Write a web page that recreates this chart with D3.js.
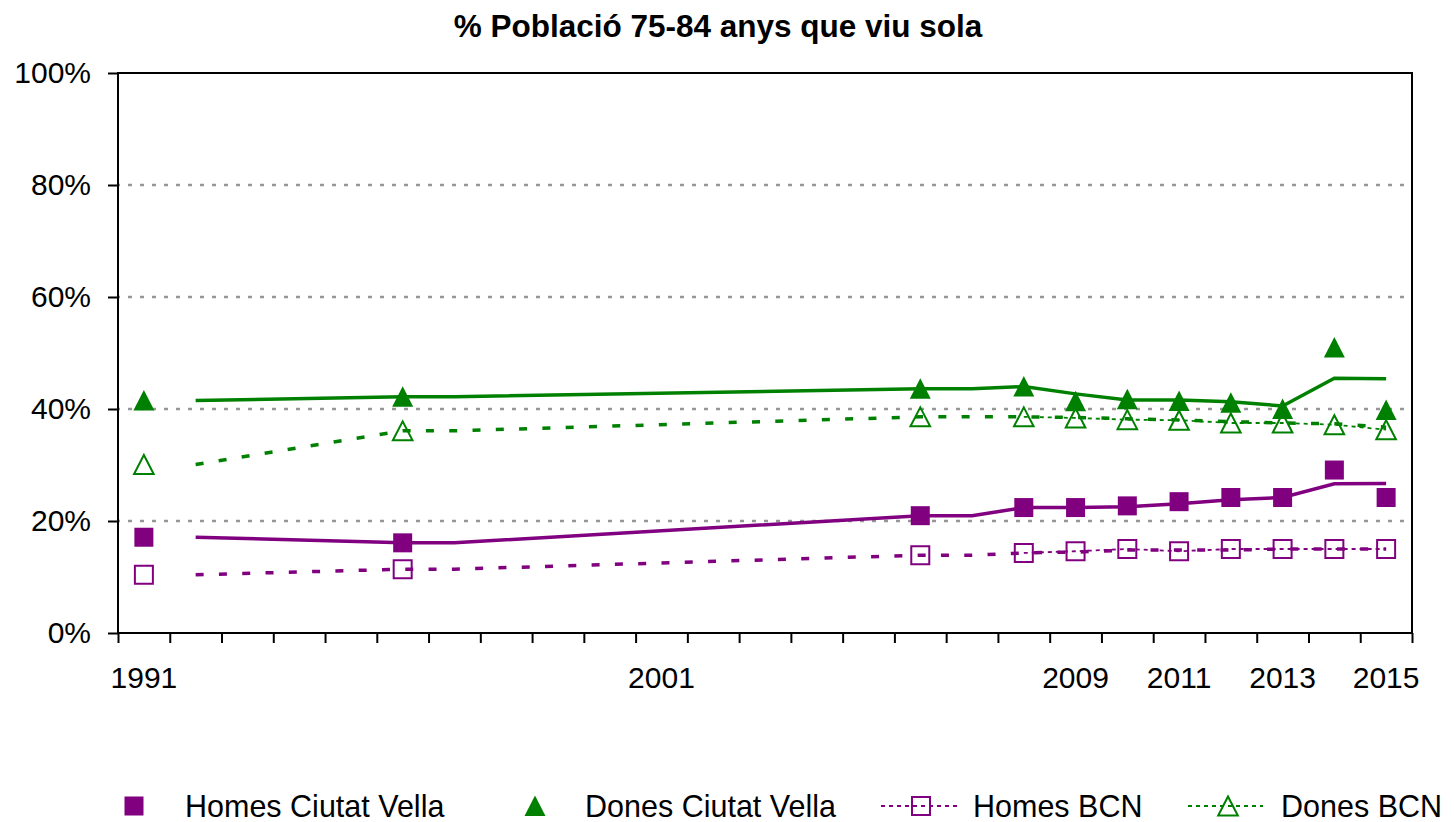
<!DOCTYPE html>
<html>
<head>
<meta charset="utf-8">
<script src="https://cdn.jsdelivr.net/npm/d3@7"></script>
<style>
  body { margin: 0; background: #fff; }
  text { font-family: "Liberation Sans", Arial, sans-serif; fill: #000; }
</style>
</head>
<body>
<svg class="chart" width="1454" height="822"></svg>
<script>
const margin = {top: 73, bottom: 189, left: 118, right: 42};
var width = 1454 - margin.left - margin.right;
var height = 822 - margin.top - margin.bottom;

var years = [1991, 1992, 1993, 1994, 1995, 1996, 1997, 1998, 1999, 2000, 2001, 2002, 2003,
             2004, 2005, 2006, 2007, 2008, 2009, 2010, 2011, 2012, 2013, 2014, 2015];
var xLabels = ["1991", "", "", "", "", "", "", "", "", "", "2001", "", "", "", "", "", "", "",
               "2009", "", "2011", "", "2013", "", "2015"];
var yTicks = [0, 20, 40, 60, 80, 100];

// marker values (% ), null = no data that year
var homesCV  = [17.1, null, null, null, null, 16.1, null, null, null, null, null, null, null, null, null,
                20.95, null, 22.4, 22.4, 22.7, 23.45, 24.2, 24.2, 29.1, 24.2];
var donesCV  = [41.5, null, null, null, null, 42.2, null, null, null, null, null, null, null, null, null,
                43.6, null, 44.0, 41.4, 41.75, 41.45, 41.1, 40.0, 51.0, 39.8];
var homesBCN = [10.4, null, null, null, null, 11.4, null, null, null, null, null, null, null, null, null,
                13.9, null, 14.3, 14.6, 15.0, 14.6, 15.0, 15.0, 15.0, 15.0];
var donesBCN = [30.1, null, null, null, null, 36.1, null, null, null, null, null, null, null, null, null,
                38.6, null, 38.6, 38.4, 38.1, 38.0, 37.5, 37.5, 37.2, 36.3];

// trend lines (2 period moving average)
var homesCVTrend  = [null, 17.1, null, null, null, 16.1, 16.1, null, null, null, null, null, null, null, null,
                     20.95, 20.95, 22.4, 22.4, 22.55, 23.1, 23.8, 24.2, 26.65, 26.7];
var donesCVTrend  = [null, 41.5, null, null, null, 42.2, 42.2, null, null, null, null, null, null, null, null,
                     43.6, 43.6, 44.0, 42.7, 41.6, 41.6, 41.3, 40.55, 45.5, 45.4];
var homesBCNTrend = [null, 10.4, null, null, null, 11.4, 11.4, null, null, null, null, null, null, null, null,
                     13.9, 13.9, 14.3, 14.45, 14.8, 14.8, 14.8, 15.0, 15.0, 15.0];
var donesBCNTrend = [null, 30.1, null, null, null, 36.1, 36.1, null, null, null, null, null, null, null, null,
                     38.6, 38.6, 38.6, 38.5, 38.25, 38.05, 37.75, 37.5, 37.35, 36.75];

var purple = "#800080", green = "#008000";

var series = [
  {name: "Homes Ciutat Vella", values: homesCV,  trend: homesCVTrend,  color: purple, shape: "square",   filled: true},
  {name: "Dones Ciutat Vella", values: donesCV,  trend: donesCVTrend,  color: green,  shape: "triangle", filled: true},
  {name: "Homes BCN",          values: homesBCN, trend: homesBCNTrend, color: purple, shape: "square",   filled: false},
  {name: "Dones BCN",          values: donesBCN, trend: donesBCNTrend, color: green,  shape: "triangle", filled: false}
];

var svg = d3.select('.chart');
var chart = svg.append('g')
  .attr('transform', 'translate(' + margin.left + ',' + margin.top + ')');

var x = d3.scaleBand().domain(years).range([0, width]).padding(0);
var xc = (yr) => x(yr) + x.bandwidth() / 2;
var y = d3.scaleLinear().domain([0, 100]).range([height, 0]);

// title
svg.append('text')
  .attr('x', 718).attr('y', 37)
  .attr('text-anchor', 'middle')
  .style('font-size', '31.5px').style('font-weight', 'bold')
  .text('% Població 75-84 anys que viu sola');

// gridlines
chart.append('g').selectAll('line')
  .data(yTicks.filter((d) => d > 0 && d < 100))
  .enter().append('line')
  .attr('x1', 0).attr('x2', width)
  .attr('y1', (d) => y(d)).attr('y2', (d) => y(d))
  .attr('stroke', '#969696').attr('stroke-width', 2.5)
  .attr('stroke-dasharray', '4,8').attr('stroke-dashoffset', 2);

// frame
chart.append('rect')
  .attr('width', width).attr('height', height)
  .attr('fill', 'none').attr('stroke', '#000').attr('stroke-width', 2);

// y axis
var yAxis = chart.append('g')
  .call(d3.axisLeft(y).tickValues(yTicks).tickSize(10).tickPadding(17).tickFormat((d) => d + '%'));
yAxis.select('.domain').remove();
yAxis.selectAll('line').attr('stroke', '#000').attr('stroke-width', 2);
yAxis.selectAll('text').style('font-size', '30px').attr('font-family', null);

// x axis ticks on category boundaries
var xb = d3.scaleLinear().domain([0, years.length]).range([0, width]);
var xAxis = chart.append('g')
  .attr('transform', 'translate(0,' + height + ')')
  .call(d3.axisBottom(xb).tickValues(d3.range(years.length + 1)).tickSize(10).tickFormat(''));
xAxis.select('.domain').remove();
xAxis.selectAll('line').attr('stroke', '#000').attr('stroke-width', 2);

chart.append('g').selectAll('text')
  .data(years)
  .enter().append('text')
  .attr('x', (d) => xc(d))
  .attr('y', height + 55)
  .attr('text-anchor', 'middle')
  .style('font-size', '30px')
  .text((d, i) => xLabels[i]);

// trend lines
var trendLine = d3.line()
  .x((d) => xc(d.year))
  .y((d) => y(d.v));

series.forEach((s) => {
  var pts = years.map((yr, i) => ({year: yr, v: s.trend[i]})).filter((d) => d.v != null);
  chart.append('path')
    .datum(pts)
    .attr('d', trendLine)
    .attr('fill', 'none')
    .attr('stroke', s.color)
    .attr('stroke-width', 3.5)
    .attr('stroke-dasharray', s.filled ? null : '8,15.3');
});

// thin series lines for BCN (broken at gaps)
var seriesLine = d3.line()
  .defined((d) => d.v != null)
  .x((d) => xc(d.year))
  .y((d) => y(d.v));

series.filter((s) => !s.filled).forEach((s) => {
  var pts = years.map((yr, i) => ({year: yr, v: s.values[i]}));
  chart.append('path')
    .datum(pts)
    .attr('d', seriesLine)
    .attr('fill', 'none')
    .attr('stroke', s.color)
    .attr('stroke-width', 1.8)
    .attr('stroke-dasharray', '4,4');
});

function markerPath(shape) {
  if (shape === 'square') return 'M-9.5,-9.5H9.5V9.5H-9.5Z';
  return 'M0,-10.5L10.5,10L-10.5,10Z';
}
function openPath(shape) {
  if (shape === 'square') return 'M-9,-9H9V9H-9Z';
  return 'M0,-9.5L9.8,9.5L-9.8,9.5Z';
}

// markers
series.forEach((s) => {
  var pts = years.map((yr, i) => ({year: yr, v: s.values[i]})).filter((d) => d.v != null);
  chart.append('g').selectAll('path')
    .data(pts)
    .enter().append('path')
    .attr('transform', (d) => 'translate(' + xc(d.year) + ',' + y(d.v) + ')')
    .attr('d', s.filled ? markerPath(s.shape) : openPath(s.shape))
    .attr('fill', s.filled ? s.color : 'none')
    .attr('stroke', s.filled ? 'none' : s.color)
    .attr('stroke-width', 2);
});

// legend
var legendPos = [
  {marker: 134, text: 185, line: null},
  {marker: 535, text: 585, line: null},
  {marker: 921, text: 973, line: [881, 957]},
  {marker: 1228, text: 1281, line: [1188, 1263]}
];
var legendY = 806;
var legend = svg.append('g').selectAll('g')
  .data(series)
  .enter().append('g');

legend.each(function(s, i) {
  var g = d3.select(this);
  var p = legendPos[i];
  if (p.line) {
    g.append('line')
      .attr('x1', p.line[0]).attr('x2', p.line[1])
      .attr('y1', legendY).attr('y2', legendY)
      .attr('stroke', s.color).attr('stroke-width', 1.8)
      .attr('stroke-dasharray', '4,4');
  }
  g.append('path')
    .attr('transform', 'translate(' + p.marker + ',' + legendY + ')')
    .attr('d', s.filled ? markerPath(s.shape) : openPath(s.shape))
    .attr('fill', s.filled ? s.color : 'none')
    .attr('stroke', s.filled ? 'none' : s.color)
    .attr('stroke-width', 2);
  g.append('text')
    .attr('x', p.text).attr('y', legendY + 10.5)
    .style('font-size', '30.5px')
    .text(s.name);
});
</script>
</body>
</html>
